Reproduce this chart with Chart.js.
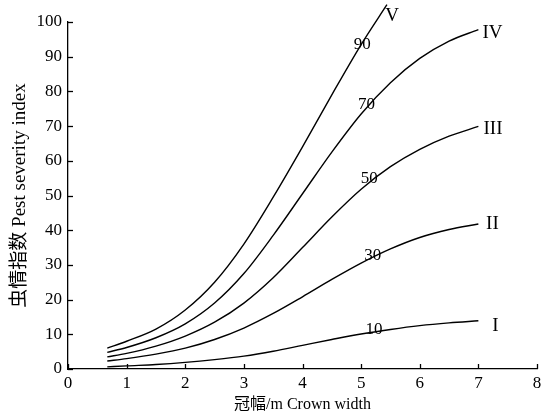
<!DOCTYPE html>
<html>
<head>
<meta charset="utf-8">
<script src="https://cdn.jsdelivr.net/npm/chart.js@4.4.1/dist/chart.umd.min.js"></script>
<style>
  html, body { margin: 0; padding: 0; background: #fff; }
  #wrap { width: 552px; height: 415px; }
</style>
</head>
<body>
<div id="wrap"><canvas id="crownChart"></canvas></div>
<script>
// crown width (m) sample points
const xI = [0.67, 1, 1.5, 2, 2.5, 3, 3.5, 4, 4.5, 5, 5.5, 6, 6.5, 7];
const yI = [0.6, 0.9, 1.3, 1.9, 2.7, 3.7, 5.1, 6.8, 8.5, 10.1, 11.4, 12.5, 13.3, 13.9];
const yII = [2.3, 3.0, 4.3, 6.0, 8.5, 11.8, 16.0, 20.8, 25.8, 30.5, 34.6, 37.9, 40.2, 41.8];
const yIII = [3.5, 4.5, 6.6, 9.5, 13.5, 19, 26.3, 35, 43.8, 51.8, 58.3, 63.3, 67.1, 69.9];
const yIV = [4.8, 6.2, 9, 13, 19, 27.5, 38.5, 50.5, 62.5, 73.5, 82.5, 89.5, 94.5, 97.8];
const xV = [0.67, 1, 1.5, 2, 2.5, 3, 3.5, 4, 4.5, 5, 5.44];
const yV = [6, 8, 11.5, 17, 25, 36, 49.5, 64, 79, 93.5, 105];

// labels on curves (value, x, y) and at line ends
const curveTags = ['10', '30', '50', '70', '90'];
const curveTagX = [5.22, 5.2, 5.14, 5.09, 5.02];
const curveTagY = [11.3, 32.6, 54.8, 76.2, 93.5];
const endTags = ['I', 'II', 'III', 'IV', 'V'];
const endTagX = [7.29, 7.24, 7.25, 7.24, 5.53];
const endTagY = [12.4, 41.8, 69.1, 96.9, 101.8];

const xTicks = [0, 1, 2, 3, 4, 5, 6, 7, 8];
const yTicks = [0, 10, 20, 30, 40, 50, 60, 70, 80, 90, 100];

const serif = '"Liberation Serif", "Noto Sans CJK SC", serif';

function pts(xs, ys) {
    return xs.map(function (x, i) { return { x: x, y: ys[i] }; });
}

function line(data) {
    return {
        data: data,
        borderColor: '#000',
        borderWidth: 1.4,
        pointRadius: 0,
        fill: false,
        cubicInterpolationMode: 'monotone',
        clip: false,
    };
}

const tagPlugin = {
    id: 'tags',
    afterDraw(chart) {
        const ctx = chart.ctx;
        const xs = chart.scales.x;
        const ys = chart.scales.y;
        ctx.save();
        ctx.strokeStyle = '#000';
        ctx.lineWidth = 1.3;
        // inward tick marks
        xTicks.forEach(function (v) {
            const px = Math.round(xs.getPixelForValue(v)) + 0.5;
            ctx.beginPath();
            ctx.moveTo(px, ys.bottom);
            ctx.lineTo(px, ys.bottom - 5);
            ctx.stroke();
        });
        yTicks.forEach(function (v) {
            const py = Math.round(ys.getPixelForValue(v)) + 0.5;
            ctx.beginPath();
            ctx.moveTo(xs.left, py);
            ctx.lineTo(xs.left + 5, py);
            ctx.stroke();
        });
        ctx.fillStyle = '#000';
        ctx.textAlign = 'center';
        ctx.textBaseline = 'middle';
        ctx.font = '17px ' + serif;
        curveTags.forEach(function (t, i) {
            ctx.fillText(t, xs.getPixelForValue(curveTagX[i]), ys.getPixelForValue(curveTagY[i]));
        });
        ctx.font = '19px ' + serif;
        endTags.forEach(function (t, i) {
            ctx.fillText(t, xs.getPixelForValue(endTagX[i]), ys.getPixelForValue(endTagY[i]));
        });
        ctx.restore();
    },
};

new Chart(document.getElementById('crownChart'), {
    type: 'line',
    data: {
        datasets: [
            line(pts(xI, yI)),
            line(pts(xI, yII)),
            line(pts(xI, yIII)),
            line(pts(xI, yIV)),
            line(pts(xV, yV)),
        ],
    },
    options: {
        responsive: true,
        maintainAspectRatio: false,
        animation: false,
        layout: { padding: { top: 22, right: 15, left: 0, bottom: 0 } },
        plugins: {
            legend: { display: false },
            tooltip: { enabled: false },
        },
        scales: {
            x: {
                type: 'linear',
                min: 0,
                max: 8,
                afterFit(scale) { scale.height = 46; },
                afterBuildTicks(scale) { scale.ticks = xTicks.map(function (v) { return { value: v }; }); },
                grid: { display: false, drawTicks: false },
                border: { display: true, color: '#000', width: 1.3 },
                ticks: { color: '#000', padding: 4, font: { family: serif, size: 17 } },
                title: {
                    display: true,
                    text: '冠幅/m Crown width',
                    color: '#000',
                    padding: { top: 0, bottom: 1 },
                    font: { family: serif, size: 16 },
                },
            },
            y: {
                type: 'linear',
                min: 0,
                max: 100,
                afterFit(scale) { scale.width = 68; },
                afterBuildTicks(scale) { scale.ticks = yTicks.map(function (v) { return { value: v }; }); },
                grid: { display: false, drawTicks: false },
                border: { display: true, color: '#000', width: 1.3 },
                ticks: { color: '#000', padding: 6, font: { family: serif, size: 17 } },
                title: {
                    display: true,
                    text: '虫情指数 Pest severity index',
                    color: '#000',
                    padding: { top: 9, bottom: 0 },
                    font: { family: serif, size: 19 },
                },
            },
        },
    },
    plugins: [tagPlugin],
});
</script>
</body>
</html>
